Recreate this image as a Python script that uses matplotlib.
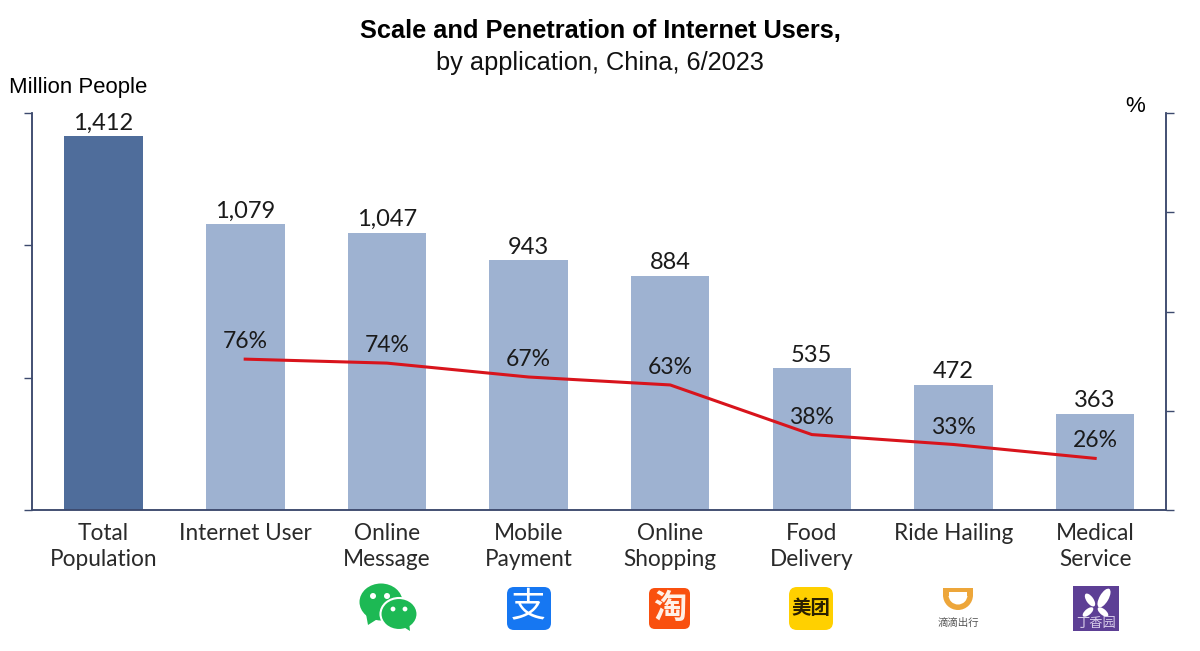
import matplotlib
matplotlib.use('Agg')
import matplotlib.pyplot as plt
from matplotlib.patches import FancyBboxPatch, Ellipse, Polygon, Wedge, Rectangle

plt.rcParams['font.family'] = ['Lato', 'Noto Sans CJK SC', 'DejaVu Sans']

# Data
categories = ['Total\nPopulation', 'Internet User', 'Online\nMessage', 'Mobile\nPayment',
              'Online\nShopping', 'Food\nDelivery', 'Ride Hailing', 'Medical\nService']
people = [1412, 1079, 1047, 943, 884, 535, 472, 363]
line_categories = [1, 2, 3, 4, 5, 6, 7]
penetration = [76, 74, 67, 63, 38, 33, 26]

W, H = 1200, 651
NAVY = '#3d4a6e'
DARK_BAR = '#4f6d9b'
LIGHT_BAR = '#9eb2d1'
RED = '#d8141c'

fig = plt.figure(figsize=(12, 6.51), dpi=100, facecolor='white')
ax = fig.add_axes([32 / W, 1 - 510 / H, (1166 - 32) / W, (510 - 113) / H])
x = list(range(len(categories)))

colors = [DARK_BAR] + [LIGHT_BAR] * 7
ax.bar(x, people, width=0.555, color=colors, zorder=2)
ax.set_xlim(-0.505, 7.5)
ax.set_ylim(0, 1500)
ax.set_yticks([0, 500, 1000, 1500])
ax.set_yticklabels([])
ax.tick_params(axis='y', length=5.5, width=1, color=NAVY, direction='out')
ax.set_xticks(x)
ax.set_xticklabels(categories, fontsize=16.3, color='#2a2a2a', linespacing=1.32, va='top')
ax.tick_params(axis='x', length=0, pad=9)
ax.spines['top'].set_visible(False)
for s in ['left', 'bottom', 'right']:
    ax.spines[s].set_color(NAVY)
    ax.spines[s].set_linewidth(1.1)

for xi, v in zip(x, people):
    ax.annotate(f'{v:,}', (xi, v), xytext=(0, 2), textcoords='offset points',
                ha='center', va='bottom', fontsize=17, color='#1a1a1a', zorder=5)

ax2 = ax.twinx()
ax2.set_xlim(ax.get_xlim())
ax2.set_ylim(0, 200)
ax2.set_yticks([0, 50, 100, 150, 200])
ax2.set_yticklabels([])
ax2.tick_params(axis='y', length=5.5, width=1, color=NAVY, direction='out')
ax2.spines['top'].set_visible(False)
for s in ['left', 'bottom', 'right']:
    ax2.spines[s].set_color(NAVY)
    ax2.spines[s].set_linewidth(1.1)
ax2.plot(line_categories, penetration, color=RED, lw=2.2, zorder=4)
for xi, v in zip(line_categories, penetration):
    ax2.annotate(f'{v}%', (xi, v), xytext=(0, 5), textcoords='offset points',
                 ha='center', va='bottom', fontsize=16.5, color='#1a1a1a', zorder=5)

# Titles and axis names, in Arial-like type
sans = ['Liberation Sans', 'DejaVu Sans']
fig.text(600 / W, 1 - 31 / H, 'Scale and Penetration of Internet Users,', family=sans,
         ha='center', va='center', fontsize=18.3, fontweight='bold', color='black')
fig.text(600 / W, 1 - 63 / H, 'by application, China, 6/2023', family=sans,
         ha='center', va='center', fontsize=18.3, color='#111111')
fig.text(9 / W, 1 - 88 / H, 'Million People', family=sans, ha='left', va='center',
         fontsize=15.9, color='black')
fig.text(1135 / W, 1 - 106 / H, '%', family=sans, ha='center', va='center',
         fontsize=16, color='black')

# App logos drawn on a pixel-coordinate overlay
ov = fig.add_axes([0, 0, 1, 1], facecolor='none')
ov.set_xlim(0, W)
ov.set_ylim(H, 0)
ov.axis('off')
cjk = ['Noto Sans CJK SC', 'DejaVu Sans']


def rounded(x0, y0, w, h, color, r=8):
    ov.add_patch(FancyBboxPatch((x0 + r, y0 + r), w - 2 * r, h - 2 * r,
                                boxstyle=f'round,pad={r}', fc=color, ec='none'))


# WeChat
green = '#1db954'
ov.add_patch(Ellipse((381, 602), 43, 37, fc=green, ec='none'))
ov.add_patch(Polygon([[366, 614], [368, 625], [379, 618]], fc=green, ec='none'))
ov.add_patch(Ellipse((399, 614), 37, 32, fc=green, ec='white', lw=1.5))
ov.add_patch(Polygon([[402, 626], [410, 631], [409, 622]], fc=green, ec='none'))
for cx, cy, r in [(373, 596, 3), (387, 596, 3), (393, 609, 2.4), (405, 609, 2.4)]:
    ov.add_patch(Ellipse((cx, cy), 2 * r, 2 * r, fc='white', ec='none'))

# Alipay
rounded(507, 587, 44, 43, '#1677f2', r=7)
ov.text(528.5, 607, '支', family=cjk, color='white', fontsize=25, ha='center', va='center')

# Taobao
rounded(649, 588, 41, 41, '#f9500f', r=6)
ov.text(669.5, 608, '淘', family=cjk, color='#fff0e6', fontsize=24, ha='center', va='center',
        fontweight='bold')

# Meituan
rounded(789, 587, 44, 43, '#ffd000', r=8)
ov.text(811, 608, '美团', family=cjk, color='#2a2000', fontsize=14, ha='center', va='center',
        fontweight='bold')

# DiDi
ov.add_patch(Wedge((958, 595), 15, 0, 180, width=5.5, fc='#eda63a', ec='none'))
ov.add_patch(Rectangle((943, 588), 30, 4, fc='#eda63a', ec='none'))
ov.add_patch(Rectangle((943, 588), 6, 8, fc='#eda63a', ec='none'))
ov.add_patch(Rectangle((967, 588), 6, 8, fc='#eda63a', ec='none'))
ov.add_patch(Rectangle((949, 592), 18, 4, fc='white', ec='none'))
ov.text(958, 623, '滴滴出行', family=cjk, color='#555555', fontsize=7.5, ha='center', va='center')

# DXY
ov.add_patch(Rectangle((1073, 586), 46, 45, fc='#5d3f95', ec='none'))
ov.add_patch(Ellipse((1090, 600), 7, 15, angle=-35, fc='white', ec='none'))
ov.add_patch(Ellipse((1104, 598), 9, 21, angle=30, fc='white', ec='none'))
ov.add_patch(Ellipse((1088, 612), 6, 13, angle=50, fc='white', ec='none'))
ov.add_patch(Ellipse((1103, 612), 6, 13, angle=-50, fc='white', ec='none'))
ov.text(1096, 624, '丁香园', family=cjk, color='#d8cdea', fontsize=9.5, ha='center', va='center')

fig.savefig('out.png', dpi=100)
